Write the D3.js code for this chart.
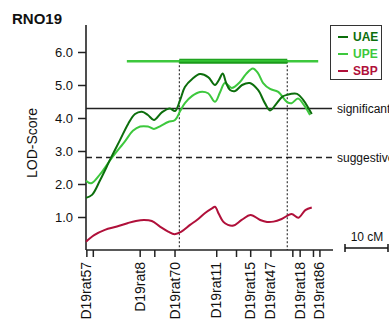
<!DOCTYPE html>
<html>
<head>
<meta charset="utf-8">
<script src="https://cdn.jsdelivr.net/npm/d3@7"></script>
<style>
  html, body { margin: 0; padding: 0; background: #fff; }
  svg { display: block; font-family: "Liberation Sans", Arial, Helvetica, sans-serif; }
</style>
</head>
<body>
<svg id="chart" width="389" height="322"></svg>
<script>
// Chromosome 19 linkage map: marker positions (cM)
const markerNames = ["D19rat57", "D19rat8", "D19rat70", "D19rat11", "D19rat15", "D19rat47", "D19rat18", "D19rat86"];
const markerPos   = [0.2, 12.6, 20.7, 30.4, 38.3, 43.0, 49.8, 54.4];
const extraMarkerPos = [1.7, 16.0, 35.0, 48.1, 52.9];

// LOD profiles
const uaePos = [0.0, 1.4, 3.3, 5.8, 7.9, 9.8, 11.4, 13.0, 14.4, 15.8, 17.7, 19.5, 20.7, 21.9, 23.0, 24.7, 26.5, 28.4, 30.0, 30.9, 31.8, 32.6, 33.5, 34.7, 36.3, 38.1, 40.0, 41.6, 42.8, 44.2, 45.6, 46.7, 49.1, 50.5, 52.5];
const uaeLod = [1.58, 1.67, 2.12, 2.79, 3.33, 3.82, 4.12, 4.19, 4.09, 3.94, 4.18, 4.29, 4.21, 4.55, 4.94, 5.18, 5.33, 5.24, 5.00, 5.15, 5.35, 5.06, 4.85, 4.82, 5.00, 5.06, 4.85, 4.45, 4.23, 4.42, 4.64, 4.70, 4.73, 4.55, 4.12];

const upePos = [0.0, 1.2, 3.3, 6.0, 9.1, 10.9, 12.6, 14.4, 15.8, 17.4, 19.1, 20.7, 21.9, 23.0, 24.7, 26.5, 28.4, 30.0, 31.2, 32.3, 33.9, 35.8, 37.2, 38.8, 40.0, 41.2, 42.8, 44.7, 46.7, 47.8, 49.3, 50.7, 52.1];
const upeLod = [2.10, 2.02, 2.30, 2.79, 3.30, 3.61, 3.74, 3.74, 3.67, 3.76, 3.88, 3.94, 4.21, 4.45, 4.67, 4.79, 4.75, 4.49, 4.79, 5.06, 4.91, 5.09, 5.33, 5.50, 5.36, 5.06, 4.88, 4.79, 4.49, 4.45, 4.59, 4.39, 4.09];

const sbpPos = [0.0, 1.9, 4.4, 7.2, 9.8, 11.6, 13.5, 15.3, 17.2, 19.1, 20.6, 22.1, 24.2, 25.8, 27.7, 29.3, 30.0, 30.9, 31.9, 33.0, 34.3, 36.2, 38.3, 40.5, 42.1, 43.6, 45.5, 47.8, 49.4, 51.0, 52.5];
const sbpLod = [0.25, 0.45, 0.61, 0.71, 0.82, 0.88, 0.91, 0.88, 0.71, 0.56, 0.48, 0.55, 0.76, 0.91, 1.12, 1.26, 1.31, 1.09, 0.86, 0.76, 0.74, 0.91, 1.06, 0.91, 0.85, 0.86, 0.94, 1.09, 0.98, 1.21, 1.29];

// Thresholds and confidence intervals
const thresholdNames  = ["significant", "suggestive"];
const thresholdValues = [4.29, 2.80];
const ciLod = 5.72;
const uaeCI = [21.7, 46.8];
const upeCI = [9.5, 54.0];

const yTicks = [1, 2, 3, 4, 5, 6];
const seriesNames = ["UAE", "UPE", "SBP"];
const seriesColors = ["#0c6e0c", "#3dc83d", "#b0103a"];

const svg = d3.select("#chart");

const x = d3.scaleLinear().domain([0, 57.44]).range([86, 333]);
const y = d3.scaleLinear().domain([0, 6.818]).range([250, 25]);

// Title
svg.append("text").attr("x", 12).attr("y", 24)
  .attr("font-size", 15).attr("font-weight", "bold").attr("fill", "#111")
  .text("RNO19");

// Y axis
const yAxis = svg.append("g").attr("transform", "translate(86,0)")
  .call(d3.axisLeft(y).tickValues(yTicks).tickFormat(d3.format(".1f")).tickSize(8).tickPadding(5));
yAxis.select(".domain").remove();
yAxis.selectAll(".tick line").attr("stroke", "#222").attr("stroke-width", 1.5);
yAxis.selectAll(".tick text").attr("font-size", 13).attr("fill", "#111")
  .attr("font-family", "Liberation Sans, Arial, sans-serif");
svg.append("line").attr("x1", 86).attr("x2", 86).attr("y1", y(6.818)).attr("y2", y(0))
  .attr("stroke", "#222").attr("stroke-width", 1.6);

svg.append("text")
  .attr("transform", "translate(37,143) rotate(-90)")
  .attr("text-anchor", "middle").attr("font-size", 14).attr("fill", "#111")
  .text("LOD-Score");

// Marker axis
svg.append("line").attr("x1", x(0)).attr("x2", x(57.44)).attr("y1", 250).attr("y2", 250)
  .attr("stroke", "#222").attr("stroke-width", 1.6);
const allMarkerPos = markerPos.concat(extraMarkerPos);
svg.append("g").selectAll("line").data(allMarkerPos).join("line")
  .attr("x1", d => x(d)).attr("x2", d => x(d)).attr("y1", 250).attr("y2", 257)
  .attr("stroke", "#222").attr("stroke-width", 1.5);
svg.append("g").selectAll("text").data(markerNames).join("text")
  .attr("transform", (d, i) => `translate(${x(markerPos[i]) + 4.5},262) rotate(-90)`)
  .attr("text-anchor", "end").attr("font-size", 14).attr("fill", "#111")
  .text(d => d);

// Threshold lines
svg.append("line").attr("x1", 86).attr("x2", 332).attr("y1", y(thresholdValues[0])).attr("y2", y(thresholdValues[0]))
  .attr("stroke", "#222").attr("stroke-width", 1.5);
svg.append("line").attr("x1", 86).attr("x2", 333).attr("y1", y(thresholdValues[1])).attr("y2", y(thresholdValues[1]))
  .attr("stroke", "#222").attr("stroke-width", 1.5).attr("stroke-dasharray", "6,4");
svg.append("g").selectAll("text").data(thresholdNames).join("text")
  .attr("x", 337).attr("y", (d, i) => y(thresholdValues[i])).attr("dy", "0.35em")
  .attr("font-size", 12).attr("fill", "#111")
  .text(d => d);

// Confidence-interval boundaries
svg.append("g").selectAll("line").data(uaeCI).join("line")
  .attr("x1", d => x(d)).attr("x2", d => x(d)).attr("y1", y(ciLod)).attr("y2", 250)
  .attr("stroke", "#111").attr("stroke-width", 1).attr("stroke-dasharray", "2,2");

// Confidence-interval bars
svg.append("line").attr("x1", x(upeCI[0])).attr("x2", x(upeCI[1])).attr("y1", y(ciLod)).attr("y2", y(ciLod))
  .attr("stroke", seriesColors[1]).attr("stroke-width", 2.5);
svg.append("line").attr("x1", x(uaeCI[0])).attr("x2", x(uaeCI[1])).attr("y1", y(ciLod)).attr("y2", y(ciLod))
  .attr("stroke", "#1a9a1a").attr("stroke-width", 5);
svg.append("line").attr("x1", x(uaeCI[0])).attr("x2", x(uaeCI[1])).attr("y1", y(ciLod) - 0.5).attr("y2", y(ciLod) - 0.5)
  .attr("stroke", "#34c434").attr("stroke-width", 2);

// LOD curves
const line = d3.line().x(d => x(d[0])).y(d => y(d[1])).curve(d3.curveCatmullRom.alpha(0.5));
const series = [
  d3.zip(uaePos, uaeLod),
  d3.zip(upePos, upeLod),
  d3.zip(sbpPos, sbpLod)
];
svg.append("g").selectAll("path").data([2, 1, 0]).join("path")
  .attr("d", i => line(series[i]))
  .attr("fill", "none").attr("stroke", i => seriesColors[i]).attr("stroke-width", 2);

// Scale bar (10 cM)
const sbY = 248;
const sb = svg.append("g").attr("transform", `translate(345,0)`);
const sbLen = x(10) - x(0);
sb.append("line").attr("x1", 0).attr("x2", sbLen).attr("y1", sbY).attr("y2", sbY)
  .attr("stroke", "#111").attr("stroke-width", 1.5);
sb.selectAll(".cap").data([0, sbLen]).join("line")
  .attr("x1", d => d).attr("x2", d => d).attr("y1", sbY - 4).attr("y2", sbY + 4)
  .attr("stroke", "#111").attr("stroke-width", 1.5);
sb.append("text").attr("x", 22).attr("y", 240.5).attr("text-anchor", "middle")
  .attr("font-size", 12).attr("fill", "#111").text("10 cM");

// Legend
const lg = svg.append("g");
lg.append("rect").attr("x", 330.5).attr("y", 25.5).attr("width", 51).attr("height", 54)
  .attr("fill", "#fff").attr("stroke", "#333").attr("stroke-width", 1);
const lgY = [37, 54, 71];
lg.selectAll("line").data(seriesNames).join("line")
  .attr("x1", 338).attr("x2", 348).attr("y1", (d, i) => lgY[i]).attr("y2", (d, i) => lgY[i])
  .attr("stroke", (d, i) => seriesColors[i]).attr("stroke-width", 2);
lg.selectAll("text").data(seriesNames).join("text")
  .attr("x", 353).attr("y", (d, i) => lgY[i]).attr("dy", "0.36em")
  .attr("font-size", 12).attr("font-weight", "bold").attr("fill", (d, i) => seriesColors[i])
  .text(d => d);
</script>
</body>
</html>
